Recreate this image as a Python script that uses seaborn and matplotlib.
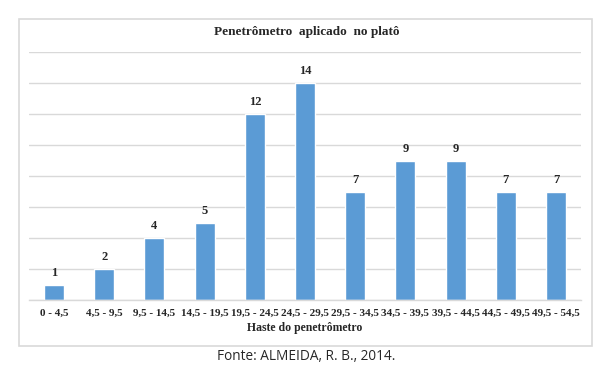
import matplotlib
matplotlib.use("Agg")
import matplotlib.pyplot as plt
import seaborn as sns
import pandas as pd
from matplotlib.patches import Rectangle

# dados do gráfico
classes = ["0 - 4,5", "4,5 - 9,5", "9,5 - 14,5", "14,5 - 19,5", "19,5 - 24,5",
           "24,5 - 29,5", "29,5 - 34,5", "34,5 - 39,5", "39,5 - 44,5",
           "44,5 - 49,5", "49,5 - 54,5"]
frequencias = [1, 2, 4, 5, 12, 14, 7, 9, 9, 7, 7]

df = pd.DataFrame({"Classe": classes, "Freq": frequencias})

sns.set_style("white")
plt.rcParams["font.family"] = ["Liberation Serif", "DejaVu Serif"]

fig = plt.figure(figsize=(6.13, 3.71), dpi=100)

# moldura externa
fig.patches.append(Rectangle((19 / 613, 25 / 371), 573 / 613, 327 / 371,
                             transform=fig.transFigure, fill=False,
                             edgecolor="#d9d9d9", linewidth=1.2))

ax = fig.add_axes([29 / 613, 71 / 371, 552 / 613, 248 / 371])

sns.barplot(data=df, x="Classe", y="Freq", color="#5b9bd5", width=0.4,
            saturation=1, ax=ax)

ax.set_ylim(0, 16)
ax.set_xlim(-0.5, len(classes) - 0.5)
ax.set_yticks(range(0, 17, 2))
ax.set_yticklabels([])
ax.tick_params(axis="y", length=0)
ax.tick_params(axis="x", length=0, pad=6.5)
ax.yaxis.grid(True, color="#d9d9d9", linewidth=1)
ax.set_axisbelow(True)
for s in ["top", "right", "left"]:
    ax.spines[s].set_visible(False)
ax.spines["bottom"].set_color("#d9d9d9")
ax.spines["bottom"].set_linewidth(1)

for lab in ax.get_xticklabels():
    lab.set_fontsize(8)
    lab.set_fontweight("bold")

ax.bar_label(ax.containers[0], padding=4, fontsize=9, fontweight="bold")

ax.set_ylabel("")
ax.set_xlabel("Haste do penetrômetro", fontsize=8.5, fontweight="bold", labelpad=3)

fig.text(0.5, 1 - 32 / 371, "Penetrômetro  aplicado  no platô", ha="center",
         va="center", fontsize=9.5, fontweight="bold")

fig.text(0.5, 1 - 356 / 371, "Fonte: ALMEIDA, R. B., 2014.", ha="center",
         va="center", fontsize=9.8, family=["Open Sans", "DejaVu Sans"])

fig.savefig("out.png", dpi=100)
